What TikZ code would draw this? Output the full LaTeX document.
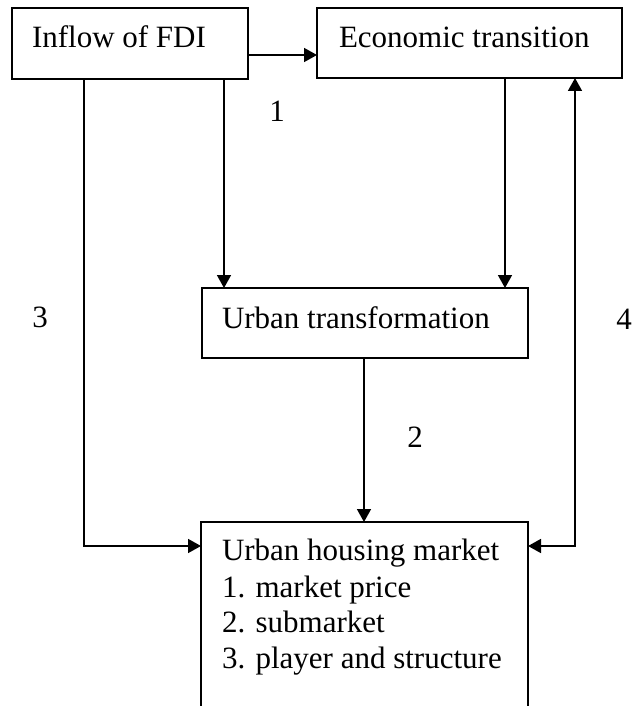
\documentclass[tikz,border=0pt]{standalone}
\usepackage{fontspec}
\setmainfont{Liberation Serif}
\usetikzlibrary{arrows.meta}
\begin{document}
\begin{tikzpicture}[x=1pt,y=-1pt,
  every node/.style={inner sep=0pt, outer sep=0pt},
  box/.style={draw, line width=1.6pt, anchor=north west},
  txt/.style={anchor=base west, font=\fontsize{31}{36}\selectfont},
  lbl/.style={anchor=center, font=\fontsize{31}{36}\selectfont},
  conn/.style={line width=1.6pt},
  arr/.style={line width=1.6pt, -{Triangle[length=13pt,width=14pt]}},
  darr/.style={line width=1.6pt, {Triangle[length=13pt,width=14pt]}-{Triangle[length=13pt,width=14pt]}}]
\useasboundingbox (0,0) rectangle (634,706);

% boxes
\node[box, minimum width=236pt, minimum height=71pt] (fdi) at (12,8) {};
\node[box, minimum width=305pt, minimum height=70pt] (eco) at (317,8) {};
\node[box, minimum width=326pt, minimum height=70pt] (urb) at (202,288) {};
\node[anchor=north west, minimum width=327pt, minimum height=184pt] (uhm) at (201,522) {};
\draw[conn] (uhm.south west) -- (uhm.north west) -- (uhm.north east) -- (uhm.south east);

% texts
\node[txt] (fdit) at (32,48) {Inflow of FDI};
\node[txt] (ecot) at (339,48) {Economic transition};
\node[txt] (urbt) at (222,328) {Urban transformation};
\node[txt] (uhm1) at (222,560) {Urban housing market};
\node[txt] (uhm2) at (222,597) {1. market price};
\node[txt] (uhm3) at (222,632) {2. submarket};
\node[txt] (uhm4) at (222,668) {3. player and structure};

% labels
\node[lbl] (l1) at (277,111) {1};
\node[lbl] (l2) at (415,437) {2};
\node[lbl] (l3) at (40,317) {3};
\node[lbl] (l4) at (624,319) {4};

% connectors
\draw[arr] (fdi.east |- 0,55) -- (eco.west |- 0,55);
\draw[arr] (fdi.south -| 84,0) -- (84,546) -- (uhm.west |- 0,546);
\draw[arr] (fdi.south -| 224,0) -- (urb.north -| 224,0);
\draw[arr] (eco.south -| 505,0) -- (urb.north -| 505,0);
\draw[arr] (urb.south -| 364,0) -- (uhm.north -| 364,0);
\draw[darr] (uhm.east |- 0,546) -- (575,546) -- (eco.south -| 575,0);
\end{tikzpicture}
\end{document}
